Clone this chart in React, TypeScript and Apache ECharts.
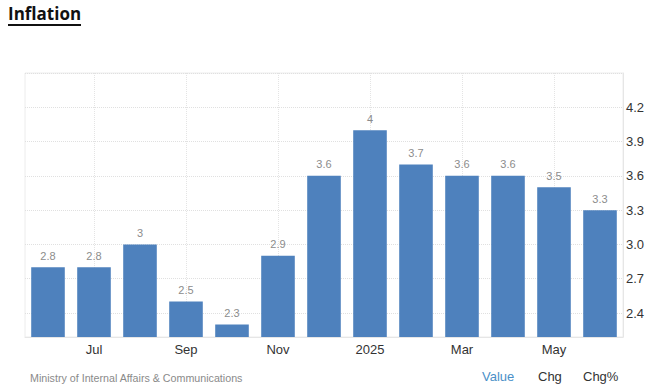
import React, { useEffect, useRef } from "react";
import * as echarts from "echarts";

const categories = ["Jun", "Jul", "Aug", "Sep", "Oct", "Nov", "Dec", "2025", "Feb", "Mar", "Apr", "May", "Jun"];
const values = [2.8, 2.8, 3.0, 2.5, 2.3, 2.9, 3.6, 4.0, 3.7, 3.6, 3.6, 3.5, 3.3];
const yTicks = [2.4, 2.7, 3.0, 3.3, 3.6, 3.9, 4.2];
const yGridLines = [2.4, 2.7, 3.0, 3.3, 3.6, 3.9, 4.2, 4.5];
const shownLabels = [1, 3, 5, 7, 9, 11];

export default function App() {
  const ref = useRef<HTMLDivElement>(null);
  useEffect(() => {
    if (!ref.current) return;
    const chart = echarts.init(ref.current, null, { renderer: "svg" });
    chart.setOption({
      animation: false,
      backgroundColor: "#ffffff",
      grid: { left: 25, right: 34, top: 73, bottom: 53, show: true, borderColor: "#ececec", borderWidth: 1 },
      graphic: [
        {
          type: "text", left: 8, top: 5,
          style: { text: "Inflation", fontFamily: "Open Sans", fontWeight: "bold", fontSize: 17, fill: "#111" },
        },
        { type: "rect", shape: { x: 8, y: 24, width: 73, height: 2 }, style: { fill: "#111" } },
        {
          type: "text", left: 30, top: 372,
          style: { text: "Ministry of Internal Affairs & Communications", fontFamily: "Liberation Sans", fontSize: 10.7, fill: "#8a8a8a" },
        },
        { type: "text", left: 482, top: 370, style: { text: "Value", fontFamily: "Liberation Sans", fontSize: 13, fill: "#4a90c8" } },
        { type: "text", left: 538, top: 370, style: { text: "Chg", fontFamily: "Liberation Sans", fontSize: 13, fill: "#333" } },
        { type: "text", left: 583, top: 370, style: { text: "Chg%", fontFamily: "Liberation Sans", fontSize: 13, fill: "#333" } },
      ],
      xAxis: {
        type: "category",
        data: categories,
        axisLine: { show: true, lineStyle: { color: "#e6e6e6" } },
        axisTick: { show: false, alignWithLabel: true },
        axisLabel: {
          interval: (i: number) => shownLabels.includes(i),
          color: "#333",
          fontFamily: "Liberation Sans",
          fontSize: 13,
          margin: 6,
        },
        splitLine: {
          show: true,
          alignWithLabel: true,
          interval: (i: number) => shownLabels.includes(i),
          lineStyle: { color: "#e4e4e4", type: "dotted" },
        },
      },
      yAxis: {
        type: "value",
        position: "right",
        min: 2.19,
        max: 4.5,
        axisLine: { show: true, lineStyle: { color: "#e6e6e6" } },
        axisTick: { show: false, customValues: yGridLines },
        axisLabel: {
          customValues: yTicks,
          formatter: (v: number) => v.toFixed(1),
          color: "#333",
          fontFamily: "Liberation Sans",
          fontSize: 13,
          margin: 3,
        },
        splitLine: { show: true, lineStyle: { color: "#e0e0e0", type: "dotted" } },
      },
      series: [
        {
          type: "bar",
          data: values,
          barWidth: "73%",
          itemStyle: { color: "#4e81bd" },
          label: {
            show: true,
            position: "top",
            distance: 6,
            color: "#8c8c8c",
            fontFamily: "Liberation Sans",
            fontSize: 11,
          },
        },
      ],
    });
    return () => chart.dispose();
  }, []);
  return <div ref={ref} style={{ width: 657, height: 390, position: "absolute", left: 0, top: 0 }} />;
}
